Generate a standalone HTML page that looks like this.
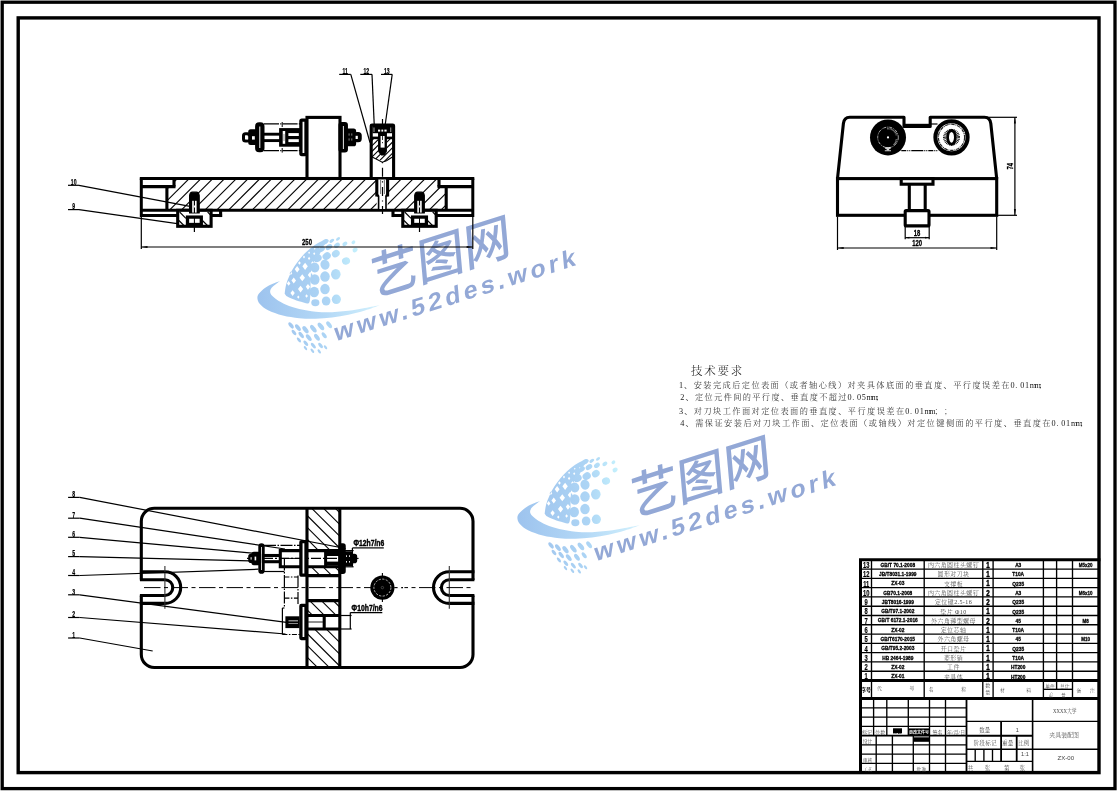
<!DOCTYPE html>
<html lang="zh"><head><meta charset="utf-8"><title>夹具装配图</title>
<style>
html,body{margin:0;padding:0;background:#fff;}
body{width:1118px;height:792px;overflow:hidden;font-family:"Liberation Sans","Noto Sans CJK SC",sans-serif;}
svg{display:block;will-change:transform;}
</style></head><body>
<svg width="1118" height="792" viewBox="0 0 1118 792">
<rect x="0" y="0" width="1118" height="792" fill="#fff"/>
<g id="borders">
<rect x="2.2" y="2.2" width="1112.8" height="786.4" fill="none" stroke="#000" stroke-width="3.3"/>
<rect x="18.2" y="17.9" width="1080.8" height="754.7" fill="none" stroke="#000" stroke-width="3.4"/>
</g>
<g id="wm1" transform="translate(-260 -220)">
<defs><linearGradient id="wg1" gradientUnits="userSpaceOnUse" x1="517" y1="0" x2="640" y2="0"><stop offset="0" stop-color="#9dc3ee"/><stop offset="0.55" stop-color="#b3d8f6"/><stop offset="1" stop-color="#d2f1fd"/></linearGradient>
<linearGradient id="wd1" gradientUnits="userSpaceOnUse" x1="545" y1="0" x2="617" y2="0"><stop offset="0" stop-color="#a3c8ef"/><stop offset="0.6" stop-color="#add5f5"/><stop offset="1" stop-color="#c4f0fd"/></linearGradient></defs>
<path d="M540.37,500.81 C538.32,501.69 531.42,504.15 528.06,506.06 C524.69,507.98 521.96,510.39 520.18,512.3 C518.4,514.22 517.44,515.58 517.39,517.55 C517.33,519.52 518.07,521.99 519.85,524.12 C521.63,526.25 524.23,528.44 528.06,530.36 C531.89,532.27 537.63,534.3 542.83,535.61 C548.03,536.92 553.77,537.72 559.24,538.24 C564.72,538.76 570.19,538.87 575.66,538.73 C581.13,538.59 586.6,538.1 592.07,537.42 C597.55,536.73 603.02,535.77 608.49,534.63 C613.96,533.48 619.71,532.08 624.9,530.52 C630.1,528.96 637.22,526.14 639.68,525.27 L639.68,525.27 C637.22,525.73 630.1,527.13 624.9,528.06 C619.71,528.99 613.96,530.17 608.49,530.85 C603.02,531.53 597.55,532.03 592.07,532.16 C586.6,532.3 581.13,532.19 575.66,531.67 C570.19,531.15 564.17,530.19 559.24,529.04 C554.32,527.9 549.94,526.42 546.11,524.78 C542.28,523.14 538.86,521.06 536.26,519.2 C533.66,517.34 531.28,515.5 530.52,513.61 C529.75,511.73 530.03,510 531.67,507.87 C533.31,505.74 538.92,501.99 540.37,500.81 Z" fill="url(#wg1)"/>
<g fill="url(#wd1)">
<path d="M544.66,513.64 C544.91,512.12 545.32,507.58 546.14,504.55 C546.95,501.52 548.18,498.45 549.55,495.45 C550.91,492.46 552.54,489.43 554.32,486.59 C556.1,483.75 558.11,480.98 560.23,478.41 C562.35,475.83 564.62,473.37 567.05,471.14 C569.47,468.9 572.16,466.78 574.77,465 C577.39,463.22 580.74,461.44 582.73,460.45 C584.72,459.47 585.76,458.94 586.7,459.09 C587.65,459.24 589.07,460.04 588.41,461.36 C587.75,462.69 584.24,464.77 582.73,467.05 C581.21,469.32 581.02,472.16 579.32,475 C577.61,477.84 573.92,480.68 572.5,484.09 C571.08,487.5 571.14,491.29 570.8,495.45 C570.45,499.62 570.74,504.55 570.45,509.09 C570.17,513.64 570.64,520.61 569.09,522.73 C567.54,524.85 563.98,522.48 561.14,521.82 C558.3,521.16 554.51,519.73 552.05,518.75 C549.58,517.77 547.31,516.38 546.36,515.91 Z M565.11,482.81 L567.81,486.36 L565.11,489.91 L562.41,486.36 Z M557.16,486.01 L559.59,489.2 L557.16,492.4 L554.73,489.2 Z M570.23,491.69 L572.66,494.89 L570.23,498.08 L567.8,494.89 Z M562.27,494.18 L564.97,497.73 L562.27,501.28 L559.57,497.73 Z M553.75,497.55 L556.04,500.57 L553.75,503.59 L551.46,500.57 Z M548.64,501.1 L550.39,503.41 L548.64,505.72 L546.88,503.41 Z M567.95,503.98 L570.11,506.82 L567.95,509.66 L565.8,506.82 Z M560.57,505.72 L563.13,509.09 L560.57,512.46 L558,509.09 Z M552.61,510.23 L554.77,513.07 L552.61,515.91 L550.45,513.07 Z M572.5,481.18 L573.85,482.95 L572.5,484.73 L571.15,482.95 Z M569.09,476.81 L570.31,478.41 L569.09,480.01 L567.88,478.41 Z M550.91,491.41 L552.26,493.18 L550.91,494.96 L549.56,493.18 Z M559.43,481.18 L560.78,482.95 L559.43,484.73 L558.08,482.95 Z M563.98,475.62 L565.06,477.05 L563.98,478.47 L562.9,477.05 Z M574.2,472.22 L575.28,473.64 L574.2,475.06 L573.12,473.64 Z M569.09,471.48 L570.04,472.73 L569.09,473.97 L568.15,472.73 Z M579.89,466.94 L580.83,468.18 L579.89,469.42 L578.94,468.18 Z M574.77,467.68 L575.58,468.75 L574.77,469.82 L573.96,468.75 Z M566.59,514.13 L567.94,515.91 L566.59,517.68 L565.24,515.91 Z M558.3,515.45 L559.51,517.05 L558.3,518.64 L557.08,517.05 Z" fill-rule="evenodd"/>
<ellipse cx="613.41" cy="462.27" rx="2.05" ry="1.7" transform="rotate(-35 613.41 462.27)"/>
<ellipse cx="615.11" cy="469.89" rx="2.73" ry="2.16" transform="rotate(-35 615.11 469.89)"/>
<ellipse cx="606.02" cy="480.91" rx="4.09" ry="3.64" transform="rotate(-15 606.02 480.91)"/>
<ellipse cx="595.8" cy="494.32" rx="4.77" ry="5.23" transform="rotate(0 595.8 494.32)"/>
<ellipse cx="596.36" cy="519.32" rx="4.55" ry="4.77" transform="rotate(0 596.36 519.32)"/>
<ellipse cx="604.89" cy="463.86" rx="2.73" ry="1.93" transform="rotate(-35 604.89 463.86)"/>
<ellipse cx="596.93" cy="465.34" rx="3.18" ry="2.27" transform="rotate(-35 596.93 465.34)"/>
<ellipse cx="595.8" cy="473.64" rx="4.09" ry="3.41" transform="rotate(-35 595.8 473.64)"/>
<ellipse cx="598.07" cy="458.86" rx="2.27" ry="1.36" transform="rotate(-35 598.07 458.86)"/>
<ellipse cx="585" cy="484.66" rx="4.55" ry="5" transform="rotate(-15 585 484.66)"/>
<ellipse cx="585" cy="496.59" rx="4.77" ry="5.23" transform="rotate(0 585 496.59)"/>
<ellipse cx="585" cy="509.09" rx="4.77" ry="5.23" transform="rotate(0 585 509.09)"/>
<ellipse cx="586.14" cy="521.02" rx="4.32" ry="4.55" transform="rotate(0 586.14 521.02)"/>
<ellipse cx="586.7" cy="476.14" rx="4.32" ry="3.64" transform="rotate(-35 586.7 476.14)"/>
<ellipse cx="588.98" cy="467.05" rx="3.64" ry="2.5" transform="rotate(-35 588.98 467.05)"/>
<ellipse cx="591.82" cy="460.8" rx="2.73" ry="1.59" transform="rotate(-35 591.82 460.8)"/>
<ellipse cx="574.77" cy="487.5" rx="4.55" ry="5" transform="rotate(-15 574.77 487.5)"/>
<ellipse cx="574.77" cy="499.43" rx="4.77" ry="5.23" transform="rotate(0 574.77 499.43)"/>
<ellipse cx="574.2" cy="511.93" rx="4.77" ry="5.23" transform="rotate(0 574.2 511.93)"/>
<ellipse cx="575.34" cy="522.73" rx="4.09" ry="3.41" transform="rotate(0 575.34 522.73)"/>
<ellipse cx="577.61" cy="478.41" rx="4.32" ry="3.41" transform="rotate(-35 577.61 478.41)"/>
<ellipse cx="581.59" cy="469.32" rx="3.64" ry="2.27" transform="rotate(-35 581.59 469.32)"/>
<ellipse cx="586.14" cy="461.93" rx="2.73" ry="1.48" transform="rotate(-35 586.14 461.93)"/>
<ellipse cx="551.04" cy="545.46" rx="3.68" ry="1.77" transform="rotate(52 551.04 545.46)"/>
<ellipse cx="557.93" cy="547.59" rx="3.94" ry="1.97" transform="rotate(52 557.93 547.59)"/>
<ellipse cx="565.48" cy="549.73" rx="4.2" ry="2.17" transform="rotate(52 565.48 549.73)"/>
<ellipse cx="573.36" cy="548.74" rx="4.46" ry="2.17" transform="rotate(52 573.36 548.74)"/>
<ellipse cx="580.91" cy="546.44" rx="4.46" ry="2.17" transform="rotate(52 580.91 546.44)"/>
<ellipse cx="589.12" cy="544.8" rx="3.94" ry="1.97" transform="rotate(52 589.12 544.8)"/>
<ellipse cx="553.99" cy="552.52" rx="3.15" ry="1.58" transform="rotate(52 553.99 552.52)"/>
<ellipse cx="561.21" cy="554.98" rx="3.68" ry="1.77" transform="rotate(52 561.21 554.98)"/>
<ellipse cx="568.77" cy="557.61" rx="3.94" ry="1.97" transform="rotate(52 568.77 557.61)"/>
<ellipse cx="576.97" cy="557.28" rx="3.94" ry="1.97" transform="rotate(52 576.97 557.28)"/>
<ellipse cx="584.2" cy="555.31" rx="3.41" ry="1.77" transform="rotate(52 584.2 555.31)"/>
<ellipse cx="558.92" cy="559.9" rx="2.89" ry="1.38" transform="rotate(52 558.92 559.9)"/>
<ellipse cx="565.81" cy="563.19" rx="3.15" ry="1.58" transform="rotate(52 565.81 563.19)"/>
<ellipse cx="573.36" cy="565.65" rx="3.41" ry="1.58" transform="rotate(52 573.36 565.65)"/>
<ellipse cx="580.58" cy="565.49" rx="3.15" ry="1.58" transform="rotate(52 580.58 565.49)"/>
<ellipse cx="565.48" cy="568.11" rx="2.36" ry="1.18" transform="rotate(52 565.48 568.11)"/>
<ellipse cx="572.38" cy="570.74" rx="2.63" ry="1.18" transform="rotate(52 572.38 570.74)"/>
<ellipse cx="579.27" cy="571.4" rx="2.36" ry="1.18" transform="rotate(52 579.27 571.4)"/>
<ellipse cx="585.51" cy="567.29" rx="2.36" ry="1.18" transform="rotate(52 585.51 567.29)"/>
</g>
<text transform="matrix(1.03 -0.326 0.1 1.12 632.6 517)" font-family='"Liberation Sans","Noto Sans CJK SC",sans-serif' font-size="45" font-weight="500" fill="#93a8d6" letter-spacing="0.2">艺图网</text>
<text transform="matrix(1 -0.316 0.09 1 595.2 561.4)" font-family='"Liberation Sans",sans-serif' font-size="24.5" font-weight="bold" fill="#93a8d6" textLength="241" lengthAdjust="spacing">www.52des.work</text>
</g>
<g id="wm2" transform="translate(0 0)">
<defs><linearGradient id="wg2" gradientUnits="userSpaceOnUse" x1="517" y1="0" x2="640" y2="0"><stop offset="0" stop-color="#9dc3ee"/><stop offset="0.55" stop-color="#b3d8f6"/><stop offset="1" stop-color="#d2f1fd"/></linearGradient>
<linearGradient id="wd2" gradientUnits="userSpaceOnUse" x1="545" y1="0" x2="617" y2="0"><stop offset="0" stop-color="#a3c8ef"/><stop offset="0.6" stop-color="#add5f5"/><stop offset="1" stop-color="#c4f0fd"/></linearGradient></defs>
<path d="M540.37,500.81 C538.32,501.69 531.42,504.15 528.06,506.06 C524.69,507.98 521.96,510.39 520.18,512.3 C518.4,514.22 517.44,515.58 517.39,517.55 C517.33,519.52 518.07,521.99 519.85,524.12 C521.63,526.25 524.23,528.44 528.06,530.36 C531.89,532.27 537.63,534.3 542.83,535.61 C548.03,536.92 553.77,537.72 559.24,538.24 C564.72,538.76 570.19,538.87 575.66,538.73 C581.13,538.59 586.6,538.1 592.07,537.42 C597.55,536.73 603.02,535.77 608.49,534.63 C613.96,533.48 619.71,532.08 624.9,530.52 C630.1,528.96 637.22,526.14 639.68,525.27 L639.68,525.27 C637.22,525.73 630.1,527.13 624.9,528.06 C619.71,528.99 613.96,530.17 608.49,530.85 C603.02,531.53 597.55,532.03 592.07,532.16 C586.6,532.3 581.13,532.19 575.66,531.67 C570.19,531.15 564.17,530.19 559.24,529.04 C554.32,527.9 549.94,526.42 546.11,524.78 C542.28,523.14 538.86,521.06 536.26,519.2 C533.66,517.34 531.28,515.5 530.52,513.61 C529.75,511.73 530.03,510 531.67,507.87 C533.31,505.74 538.92,501.99 540.37,500.81 Z" fill="url(#wg2)"/>
<g fill="url(#wd2)">
<path d="M544.66,513.64 C544.91,512.12 545.32,507.58 546.14,504.55 C546.95,501.52 548.18,498.45 549.55,495.45 C550.91,492.46 552.54,489.43 554.32,486.59 C556.1,483.75 558.11,480.98 560.23,478.41 C562.35,475.83 564.62,473.37 567.05,471.14 C569.47,468.9 572.16,466.78 574.77,465 C577.39,463.22 580.74,461.44 582.73,460.45 C584.72,459.47 585.76,458.94 586.7,459.09 C587.65,459.24 589.07,460.04 588.41,461.36 C587.75,462.69 584.24,464.77 582.73,467.05 C581.21,469.32 581.02,472.16 579.32,475 C577.61,477.84 573.92,480.68 572.5,484.09 C571.08,487.5 571.14,491.29 570.8,495.45 C570.45,499.62 570.74,504.55 570.45,509.09 C570.17,513.64 570.64,520.61 569.09,522.73 C567.54,524.85 563.98,522.48 561.14,521.82 C558.3,521.16 554.51,519.73 552.05,518.75 C549.58,517.77 547.31,516.38 546.36,515.91 Z M565.11,482.81 L567.81,486.36 L565.11,489.91 L562.41,486.36 Z M557.16,486.01 L559.59,489.2 L557.16,492.4 L554.73,489.2 Z M570.23,491.69 L572.66,494.89 L570.23,498.08 L567.8,494.89 Z M562.27,494.18 L564.97,497.73 L562.27,501.28 L559.57,497.73 Z M553.75,497.55 L556.04,500.57 L553.75,503.59 L551.46,500.57 Z M548.64,501.1 L550.39,503.41 L548.64,505.72 L546.88,503.41 Z M567.95,503.98 L570.11,506.82 L567.95,509.66 L565.8,506.82 Z M560.57,505.72 L563.13,509.09 L560.57,512.46 L558,509.09 Z M552.61,510.23 L554.77,513.07 L552.61,515.91 L550.45,513.07 Z M572.5,481.18 L573.85,482.95 L572.5,484.73 L571.15,482.95 Z M569.09,476.81 L570.31,478.41 L569.09,480.01 L567.88,478.41 Z M550.91,491.41 L552.26,493.18 L550.91,494.96 L549.56,493.18 Z M559.43,481.18 L560.78,482.95 L559.43,484.73 L558.08,482.95 Z M563.98,475.62 L565.06,477.05 L563.98,478.47 L562.9,477.05 Z M574.2,472.22 L575.28,473.64 L574.2,475.06 L573.12,473.64 Z M569.09,471.48 L570.04,472.73 L569.09,473.97 L568.15,472.73 Z M579.89,466.94 L580.83,468.18 L579.89,469.42 L578.94,468.18 Z M574.77,467.68 L575.58,468.75 L574.77,469.82 L573.96,468.75 Z M566.59,514.13 L567.94,515.91 L566.59,517.68 L565.24,515.91 Z M558.3,515.45 L559.51,517.05 L558.3,518.64 L557.08,517.05 Z" fill-rule="evenodd"/>
<ellipse cx="613.41" cy="462.27" rx="2.05" ry="1.7" transform="rotate(-35 613.41 462.27)"/>
<ellipse cx="615.11" cy="469.89" rx="2.73" ry="2.16" transform="rotate(-35 615.11 469.89)"/>
<ellipse cx="606.02" cy="480.91" rx="4.09" ry="3.64" transform="rotate(-15 606.02 480.91)"/>
<ellipse cx="595.8" cy="494.32" rx="4.77" ry="5.23" transform="rotate(0 595.8 494.32)"/>
<ellipse cx="596.36" cy="519.32" rx="4.55" ry="4.77" transform="rotate(0 596.36 519.32)"/>
<ellipse cx="604.89" cy="463.86" rx="2.73" ry="1.93" transform="rotate(-35 604.89 463.86)"/>
<ellipse cx="596.93" cy="465.34" rx="3.18" ry="2.27" transform="rotate(-35 596.93 465.34)"/>
<ellipse cx="595.8" cy="473.64" rx="4.09" ry="3.41" transform="rotate(-35 595.8 473.64)"/>
<ellipse cx="598.07" cy="458.86" rx="2.27" ry="1.36" transform="rotate(-35 598.07 458.86)"/>
<ellipse cx="585" cy="484.66" rx="4.55" ry="5" transform="rotate(-15 585 484.66)"/>
<ellipse cx="585" cy="496.59" rx="4.77" ry="5.23" transform="rotate(0 585 496.59)"/>
<ellipse cx="585" cy="509.09" rx="4.77" ry="5.23" transform="rotate(0 585 509.09)"/>
<ellipse cx="586.14" cy="521.02" rx="4.32" ry="4.55" transform="rotate(0 586.14 521.02)"/>
<ellipse cx="586.7" cy="476.14" rx="4.32" ry="3.64" transform="rotate(-35 586.7 476.14)"/>
<ellipse cx="588.98" cy="467.05" rx="3.64" ry="2.5" transform="rotate(-35 588.98 467.05)"/>
<ellipse cx="591.82" cy="460.8" rx="2.73" ry="1.59" transform="rotate(-35 591.82 460.8)"/>
<ellipse cx="574.77" cy="487.5" rx="4.55" ry="5" transform="rotate(-15 574.77 487.5)"/>
<ellipse cx="574.77" cy="499.43" rx="4.77" ry="5.23" transform="rotate(0 574.77 499.43)"/>
<ellipse cx="574.2" cy="511.93" rx="4.77" ry="5.23" transform="rotate(0 574.2 511.93)"/>
<ellipse cx="575.34" cy="522.73" rx="4.09" ry="3.41" transform="rotate(0 575.34 522.73)"/>
<ellipse cx="577.61" cy="478.41" rx="4.32" ry="3.41" transform="rotate(-35 577.61 478.41)"/>
<ellipse cx="581.59" cy="469.32" rx="3.64" ry="2.27" transform="rotate(-35 581.59 469.32)"/>
<ellipse cx="586.14" cy="461.93" rx="2.73" ry="1.48" transform="rotate(-35 586.14 461.93)"/>
<ellipse cx="551.04" cy="545.46" rx="3.68" ry="1.77" transform="rotate(52 551.04 545.46)"/>
<ellipse cx="557.93" cy="547.59" rx="3.94" ry="1.97" transform="rotate(52 557.93 547.59)"/>
<ellipse cx="565.48" cy="549.73" rx="4.2" ry="2.17" transform="rotate(52 565.48 549.73)"/>
<ellipse cx="573.36" cy="548.74" rx="4.46" ry="2.17" transform="rotate(52 573.36 548.74)"/>
<ellipse cx="580.91" cy="546.44" rx="4.46" ry="2.17" transform="rotate(52 580.91 546.44)"/>
<ellipse cx="589.12" cy="544.8" rx="3.94" ry="1.97" transform="rotate(52 589.12 544.8)"/>
<ellipse cx="553.99" cy="552.52" rx="3.15" ry="1.58" transform="rotate(52 553.99 552.52)"/>
<ellipse cx="561.21" cy="554.98" rx="3.68" ry="1.77" transform="rotate(52 561.21 554.98)"/>
<ellipse cx="568.77" cy="557.61" rx="3.94" ry="1.97" transform="rotate(52 568.77 557.61)"/>
<ellipse cx="576.97" cy="557.28" rx="3.94" ry="1.97" transform="rotate(52 576.97 557.28)"/>
<ellipse cx="584.2" cy="555.31" rx="3.41" ry="1.77" transform="rotate(52 584.2 555.31)"/>
<ellipse cx="558.92" cy="559.9" rx="2.89" ry="1.38" transform="rotate(52 558.92 559.9)"/>
<ellipse cx="565.81" cy="563.19" rx="3.15" ry="1.58" transform="rotate(52 565.81 563.19)"/>
<ellipse cx="573.36" cy="565.65" rx="3.41" ry="1.58" transform="rotate(52 573.36 565.65)"/>
<ellipse cx="580.58" cy="565.49" rx="3.15" ry="1.58" transform="rotate(52 580.58 565.49)"/>
<ellipse cx="565.48" cy="568.11" rx="2.36" ry="1.18" transform="rotate(52 565.48 568.11)"/>
<ellipse cx="572.38" cy="570.74" rx="2.63" ry="1.18" transform="rotate(52 572.38 570.74)"/>
<ellipse cx="579.27" cy="571.4" rx="2.36" ry="1.18" transform="rotate(52 579.27 571.4)"/>
<ellipse cx="585.51" cy="567.29" rx="2.36" ry="1.18" transform="rotate(52 585.51 567.29)"/>
</g>
<text transform="matrix(1.03 -0.326 0.1 1.12 632.6 517)" font-family='"Liberation Sans","Noto Sans CJK SC",sans-serif' font-size="45" font-weight="500" fill="#93a8d6" letter-spacing="0.2">艺图网</text>
<text transform="matrix(1 -0.316 0.09 1 595.2 561.4)" font-family='"Liberation Sans",sans-serif' font-size="24.5" font-weight="bold" fill="#93a8d6" textLength="241" lengthAdjust="spacing">www.52des.work</text>
</g>
<g id="front">
<clipPath id="hp"><path d="M174,178.5 H376.6 V210.3 H166.9 V186.6 H174 Z M387.7,178.5 H439 V186.6 H446.2 V210.3 H387.7 Z" clip-rule="evenodd"/></clipPath>
<g clip-path="url(#hp)" stroke="#000" stroke-width="1.1">
<line x1="168.2" y1="176" x2="131.2" y2="213"/>
<line x1="180" y1="176" x2="143" y2="213"/>
<line x1="191.8" y1="176" x2="154.8" y2="213"/>
<line x1="203.6" y1="176" x2="166.6" y2="213"/>
<line x1="215.4" y1="176" x2="178.4" y2="213"/>
<line x1="227.2" y1="176" x2="190.2" y2="213"/>
<line x1="239" y1="176" x2="202" y2="213"/>
<line x1="250.8" y1="176" x2="213.8" y2="213"/>
<line x1="262.6" y1="176" x2="225.6" y2="213"/>
<line x1="274.4" y1="176" x2="237.4" y2="213"/>
<line x1="286.2" y1="176" x2="249.2" y2="213"/>
<line x1="298" y1="176" x2="261" y2="213"/>
<line x1="309.8" y1="176" x2="272.8" y2="213"/>
<line x1="321.6" y1="176" x2="284.6" y2="213"/>
<line x1="333.4" y1="176" x2="296.4" y2="213"/>
<line x1="345.2" y1="176" x2="308.2" y2="213"/>
<line x1="357" y1="176" x2="320" y2="213"/>
<line x1="368.8" y1="176" x2="331.8" y2="213"/>
<line x1="380.6" y1="176" x2="343.6" y2="213"/>
<line x1="392.4" y1="176" x2="355.4" y2="213"/>
<line x1="404.2" y1="176" x2="367.2" y2="213"/>
<line x1="416" y1="176" x2="379" y2="213"/>
<line x1="427.8" y1="176" x2="390.8" y2="213"/>
<line x1="439.6" y1="176" x2="402.6" y2="213"/>
<line x1="451.4" y1="176" x2="414.4" y2="213"/>
<line x1="463.2" y1="176" x2="426.2" y2="213"/>
<line x1="475" y1="176" x2="438" y2="213"/>
<line x1="486.8" y1="176" x2="449.8" y2="213"/>
</g>
<line x1="139.8" y1="178.5" x2="474.3" y2="178.5" stroke="#000" stroke-width="3"/>
<line x1="141.3" y1="178.5" x2="141.3" y2="217" stroke="#000" stroke-width="3"/>
<line x1="472.8" y1="178.5" x2="472.8" y2="217" stroke="#000" stroke-width="3"/>
<line x1="141.3" y1="210.3" x2="472.8" y2="210.3" stroke="#000" stroke-width="3"/>
<line x1="141.3" y1="215.5" x2="222.1" y2="215.5" stroke="#000" stroke-width="3.1"/>
<line x1="220.6" y1="210.3" x2="220.6" y2="217.05" stroke="#000" stroke-width="3.1"/>
<line x1="392" y1="215.5" x2="472.8" y2="215.5" stroke="#000" stroke-width="3.1"/>
<line x1="393" y1="210.3" x2="393" y2="217.05" stroke="#000" stroke-width="3.1"/>
<line x1="141.3" y1="186.6" x2="175.5" y2="186.6" stroke="#000" stroke-width="3.1"/>
<line x1="174" y1="178.5" x2="174" y2="186.6" stroke="#000" stroke-width="3.1"/>
<line x1="166.9" y1="186.6" x2="166.9" y2="210.3" stroke="#000" stroke-width="3.1"/>
<line x1="437.5" y1="186.6" x2="472.8" y2="186.6" stroke="#000" stroke-width="3.1"/>
<line x1="439" y1="178.5" x2="439" y2="186.6" stroke="#000" stroke-width="3.1"/>
<line x1="446.2" y1="186.6" x2="446.2" y2="210.3" stroke="#000" stroke-width="3.1"/>
<rect x="177.7" y="210.3" width="33.4" height="16" fill="#fff" stroke="#000" stroke-width="3.1"/>
<line x1="179.6" y1="212" x2="185.9" y2="218.3" stroke="#000" stroke-width="1.1"/>
<line x1="178.9" y1="220.5" x2="184.4" y2="226" stroke="#000" stroke-width="1.1"/>
<line x1="202.4" y1="220.5" x2="208.9" y2="227" stroke="#000" stroke-width="1.1"/>
<line x1="207.6" y1="212" x2="210.4" y2="214.8" stroke="#000" stroke-width="1.1"/>
<rect x="187.5" y="217.1" width="13.8" height="7.4" fill="#fff" stroke="#000" stroke-width="3.3"/>
<path d="M189.6,213 V195.6 Q190,192.2 192.4,192.2 H196.4 Q198.8,192.2 199.2,195.6 V213 Z" fill="#000" stroke="#000" stroke-width="1.2" stroke-linejoin="round"/>
<rect x="192.2" y="200.8" width="1.6" height="11.8" fill="#fff"/>
<rect x="195" y="200.8" width="1.6" height="11.8" fill="#fff"/>
<rect x="193.8" y="205.5" width="1.2" height="2" fill="#fff"/>
<line x1="194.4" y1="226" x2="194.4" y2="232" stroke="#000" stroke-width="1.2"/>
<line x1="194.4" y1="218" x2="194.4" y2="224" stroke="#000" stroke-width="1"/>
<rect x="402.8" y="210.3" width="33.4" height="16" fill="#fff" stroke="#000" stroke-width="3.1"/>
<line x1="404.7" y1="212" x2="411" y2="218.3" stroke="#000" stroke-width="1.1"/>
<line x1="404" y1="220.5" x2="409.5" y2="226" stroke="#000" stroke-width="1.1"/>
<line x1="427.5" y1="220.5" x2="434" y2="227" stroke="#000" stroke-width="1.1"/>
<line x1="432.7" y1="212" x2="435.5" y2="214.8" stroke="#000" stroke-width="1.1"/>
<rect x="412.6" y="217.1" width="13.8" height="7.4" fill="#fff" stroke="#000" stroke-width="3.3"/>
<path d="M414.7,213 V195.6 Q415.1,192.2 417.5,192.2 H421.5 Q423.9,192.2 424.3,195.6 V213 Z" fill="#000" stroke="#000" stroke-width="1.2" stroke-linejoin="round"/>
<rect x="417.3" y="200.8" width="1.6" height="11.8" fill="#fff"/>
<rect x="420.1" y="200.8" width="1.6" height="11.8" fill="#fff"/>
<rect x="418.9" y="205.5" width="1.2" height="2" fill="#fff"/>
<line x1="419.5" y1="226" x2="419.5" y2="232" stroke="#000" stroke-width="1.2"/>
<line x1="419.5" y1="218" x2="419.5" y2="224" stroke="#000" stroke-width="1"/>
<rect x="307" y="117.4" width="33" height="61.1" fill="#fff" stroke="#000" stroke-width="3.1"/>
<rect x="300.9" y="120.2" width="5.1" height="34.4" fill="#fff" stroke="#000" stroke-width="3.3" rx="1"/>
<rect x="340" y="123.6" width="6.4" height="27.4" fill="#000" stroke="#000" stroke-width="3.1" rx="1.5"/>
<rect x="342.9" y="126" width="0.9" height="23" fill="#fff"/>
<rect x="346.4" y="130" width="8.2" height="14.8" fill="#000" stroke="#000" stroke-width="3.1" rx="1"/>
<rect x="348.7" y="133.4" width="0.7" height="2.2" fill="#bbb"/>
<rect x="351.5" y="133.4" width="0.7" height="2.2" fill="#bbb"/>
<rect x="348.7" y="138.4" width="0.7" height="2.2" fill="#bbb"/>
<rect x="351.5" y="138.4" width="0.7" height="2.2" fill="#bbb"/>
<rect x="355" y="133.6" width="5.2" height="7.2" fill="#000" stroke="#000" stroke-width="3.1" rx="2"/>
<rect x="355.6" y="135.8" width="2.2" height="3.2" fill="#fff"/>
<rect x="279.1" y="128.1" width="20.9" height="18.6" fill="#000"/>
<rect x="282.7" y="131" width="2.5" height="12.8" fill="#fff"/>
<rect x="283.6" y="134" width="0.8" height="7" fill="#777"/>
<rect x="288.4" y="133.1" width="10.4" height="2.9" fill="#fff"/>
<rect x="288.4" y="139.2" width="10.4" height="2.9" fill="#fff"/>
<line x1="263.5" y1="134.2" x2="280" y2="134.2" stroke="#000" stroke-width="2.9"/>
<line x1="263.5" y1="140.6" x2="280" y2="140.6" stroke="#000" stroke-width="2.9"/>
<line x1="264" y1="123.9" x2="300" y2="123.9" stroke="#000" stroke-width="1.2" stroke-dasharray="15 1.2 1.2 1.2"/>
<line x1="264" y1="150.7" x2="300" y2="150.7" stroke="#000" stroke-width="1.2" stroke-dasharray="15 1.2 1.2 1.2"/>
<line x1="282.2" y1="122" x2="282.2" y2="127" stroke="#000" stroke-width="1"/>
<line x1="282.2" y1="148" x2="282.2" y2="152.6" stroke="#000" stroke-width="1"/>
<rect x="256.8" y="124" width="6" height="26.6" fill="#000" stroke="#000" stroke-width="3.4" rx="2.4"/>
<rect x="259.3" y="126.5" width="1" height="21.5" fill="#fff"/>
<rect x="249.5" y="130.6" width="6.8" height="13" fill="#000" stroke="#000" stroke-width="2.6" rx="1.2"/>
<rect x="252" y="136.2" width="2.8" height="3.4" fill="#fff"/>
<rect x="243.5" y="133.8" width="5.8" height="7.2" fill="#fff" stroke="#000" stroke-width="3" rx="2"/>
<rect x="246.6" y="136.2" width="1.6" height="3.2" fill="#fff"/>
<clipPath id="hc"><path d="M371,139 H378.6 V151 L381,155 H384.4 L386.4,151 V139 H393.6 V157 L385.5,162 L375.7,158.8 L371,156.4 Z" clip-rule="evenodd"/></clipPath>
<g clip-path="url(#hc)" stroke="#000" stroke-width="1.1">
<line x1="370.6" y1="136" x2="341.6" y2="165"/>
<line x1="376.2" y1="136" x2="347.2" y2="165"/>
<line x1="381.8" y1="136" x2="352.8" y2="165"/>
<line x1="387.4" y1="136" x2="358.4" y2="165"/>
<line x1="393" y1="136" x2="364" y2="165"/>
<line x1="398.6" y1="136" x2="369.6" y2="165"/>
<line x1="404.2" y1="136" x2="375.2" y2="165"/>
<line x1="409.8" y1="136" x2="380.8" y2="165"/>
<line x1="415.4" y1="136" x2="386.4" y2="165"/>
<line x1="421" y1="136" x2="392" y2="165"/>
</g>
<path d="M371,156.4 L375.7,158.8 L382.2,162.2 L386.5,160.8 L393.6,156.2" fill="none" stroke="#000" stroke-width="1.1" stroke-linejoin="miter"/>
<rect x="371.2" y="125" width="22.4" height="53.5" fill="none" stroke="#000" stroke-width="3.1" rx="0.8"/>
<rect x="372.5" y="125" width="19.8" height="8.2" fill="#000"/>
<rect x="378" y="129.6" width="2.2" height="2" fill="#fff"/>
<rect x="381.4" y="129.6" width="1.8" height="2" fill="#fff"/>
<rect x="384.4" y="129.6" width="2.2" height="2" fill="#fff"/>
<rect x="373.6" y="127.5" width="0.8" height="4.5" fill="#ccc"/>
<rect x="390.4" y="127.5" width="0.8" height="4.5" fill="#ccc"/>
<line x1="371.2" y1="137.9" x2="393.6" y2="137.9" stroke="#000" stroke-width="2.6"/>
<path d="M378.6,133 V151.5 L381,155 H384.4 L386.4,151.5 V133 Z" fill="#000" stroke="#000" stroke-width="1" stroke-linejoin="round"/>
<rect x="380.6" y="136" width="4" height="11.6" fill="#fff"/>
<rect x="382.1" y="136" width="0.8" height="4" fill="#000"/>
<rect x="382.1" y="142" width="0.8" height="1.2" fill="#000"/>
<rect x="378" y="179.5" width="8.5" height="29.5" fill="#fff"/>
<line x1="376.8" y1="178.5" x2="376.8" y2="196.5" stroke="#000" stroke-width="3.1"/>
<line x1="387.6" y1="178.5" x2="387.6" y2="196.5" stroke="#000" stroke-width="3.1"/>
<line x1="376.8" y1="195.6" x2="379" y2="195.6" stroke="#000" stroke-width="2"/>
<line x1="385.6" y1="195.6" x2="387.6" y2="195.6" stroke="#000" stroke-width="2"/>
<line x1="378.6" y1="195.6" x2="378.6" y2="210.3" stroke="#000" stroke-width="1.6"/>
<line x1="386" y1="195.6" x2="386" y2="210.3" stroke="#000" stroke-width="1.6"/>
<line x1="380.6" y1="180" x2="380.6" y2="194" stroke="#555" stroke-width="0.8"/>
<line x1="384.4" y1="180" x2="384.4" y2="194" stroke="#555" stroke-width="0.8"/>
<line x1="382.5" y1="119" x2="382.5" y2="124" stroke="#000" stroke-width="1.2"/>
<line x1="382.5" y1="162" x2="382.5" y2="214" stroke="#000" stroke-width="1.2" stroke-dasharray="1.2 4.5 9 4.5"/>
<line x1="141.3" y1="217" x2="141.3" y2="249" stroke="#000" stroke-width="1.2"/>
<line x1="472.8" y1="217" x2="472.8" y2="249" stroke="#000" stroke-width="1.2"/>
<line x1="141.3" y1="247" x2="472.8" y2="247" stroke="#000" stroke-width="1.2"/>
<polygon points="141.5,247 147.5,246 147.5,248" fill="#000"/>
<polygon points="472.6,247 466.6,248 466.6,246" fill="#000"/>
<text transform="translate(307 245.4) scale(0.66 1)" font-family='"Liberation Sans","Noto Sans CJK SC",sans-serif' font-size="9" font-weight="bold" text-anchor="middle" fill="#000" stroke="#000" stroke-width="0.3" stroke-linejoin="round">250</text>
<line x1="339.2" y1="74.4" x2="350.8" y2="74.4" stroke="#000" stroke-width="1.2"/>
<line x1="350.8" y1="74.4" x2="370" y2="142.5" stroke="#000" stroke-width="1.2"/>
<text transform="translate(345.2 74.2) scale(0.62 1)" font-family='"Liberation Sans","Noto Sans CJK SC",sans-serif' font-size="8.3" font-weight="bold" text-anchor="middle" fill="#000" stroke="#000" stroke-width="0.22" stroke-linejoin="round">11</text>
<line x1="360.3" y1="74.4" x2="372" y2="74.4" stroke="#000" stroke-width="1.2"/>
<line x1="372" y1="74.4" x2="374.2" y2="124" stroke="#000" stroke-width="1.2"/>
<text transform="translate(366.35 74.2) scale(0.62 1)" font-family='"Liberation Sans","Noto Sans CJK SC",sans-serif' font-size="8.3" font-weight="bold" text-anchor="middle" fill="#000" stroke="#000" stroke-width="0.22" stroke-linejoin="round">12</text>
<line x1="381" y1="74.4" x2="392.2" y2="74.4" stroke="#000" stroke-width="1.2"/>
<line x1="392.2" y1="74.4" x2="385.3" y2="124" stroke="#000" stroke-width="1.2"/>
<text transform="translate(386.8 74.2) scale(0.62 1)" font-family='"Liberation Sans","Noto Sans CJK SC",sans-serif' font-size="8.3" font-weight="bold" text-anchor="middle" fill="#000" stroke="#000" stroke-width="0.22" stroke-linejoin="round">13</text>
<line x1="68" y1="185.3" x2="79" y2="185.3" stroke="#000" stroke-width="1.2"/>
<line x1="79" y1="185.3" x2="190" y2="206.4" stroke="#000" stroke-width="1.2"/>
<text transform="translate(73.7 185.1) scale(0.62 1)" font-family='"Liberation Sans","Noto Sans CJK SC",sans-serif' font-size="8.3" font-weight="bold" text-anchor="middle" fill="#000" stroke="#000" stroke-width="0.22" stroke-linejoin="round">10</text>
<line x1="68" y1="209.6" x2="79" y2="209.6" stroke="#000" stroke-width="1.2"/>
<line x1="79" y1="209.6" x2="177.2" y2="223.6" stroke="#000" stroke-width="1.2"/>
<text transform="translate(73.7 209.4) scale(0.62 1)" font-family='"Liberation Sans","Noto Sans CJK SC",sans-serif' font-size="8.3" font-weight="bold" text-anchor="middle" fill="#000" stroke="#000" stroke-width="0.22" stroke-linejoin="round">9</text>
</g>
<g id="side">
<path d="M837.5,178.6 L843.4,123.5 Q844.2,117.3 849.7,117.3 H904 V126.4 H930.2 V117.3 H984.5 Q990,117.3 990.8,123.5 L996.7,178.6" fill="none" stroke="#000" stroke-width="3.1" stroke-linejoin="round"/>
<line x1="904" y1="124.7" x2="930.4" y2="124.7" stroke="#000" stroke-width="1.8"/>
<rect x="837.5" y="178.6" width="159.2" height="36.7" fill="none" stroke="#000" stroke-width="3.1"/>
<rect x="901.2" y="178.6" width="31.8" height="5.6" fill="#fff" stroke="#000" stroke-width="3.1"/>
<line x1="909.3" y1="184.2" x2="909.3" y2="210" stroke="#000" stroke-width="3.1"/>
<line x1="925.2" y1="184.2" x2="925.2" y2="210" stroke="#000" stroke-width="3.1"/>
<rect x="905.2" y="210.6" width="23.8" height="15.3" fill="#fff" stroke="#000" stroke-width="3.1" rx="1"/>
<circle cx="888" cy="137.4" r="18" fill="#000" stroke="none" stroke-width="0"/>
<circle cx="888" cy="137.4" r="10.3" fill="none" stroke="#ddd" stroke-width="0.8" stroke-dasharray="3 1.2 1 1"/>
<path d="M887.2,128.6 A9,9 0 0 1 896.6,135.2" fill="none" stroke="#999" stroke-width="1.8" stroke-linejoin="miter" stroke-dasharray="0.7 0.6"/>
<path d="M896.4,139.5 A9,9 0 0 1 893.6,145" fill="none" stroke="#bbb" stroke-width="1.6" stroke-linejoin="miter" stroke-dasharray="0.7 0.6"/>
<circle cx="888" cy="137.4" r="1.1" fill="#fff" stroke="none" stroke-width="0"/>
<rect x="885.2" y="147.3" width="5.4" height="1.5" fill="#fff"/>
<rect x="886.6" y="148.8" width="2.6" height="1.5" fill="#ddd"/>
<rect x="884.8" y="150.4" width="6.2" height="0.8" fill="#fff"/>
<circle cx="951.5" cy="137.3" r="16.1" fill="#fff" stroke="#000" stroke-width="4.1"/>
<circle cx="951.5" cy="137.3" r="13.1" fill="none" stroke="#222" stroke-width="1.2" stroke-dasharray="3.5 0.8 1 0.8"/>
<circle cx="951.5" cy="137.3" r="6.9" fill="none" stroke="#000" stroke-width="3.1" stroke-dasharray="0.75 0.75"/>
<ellipse cx="951.5" cy="137.3" rx="5.3" ry="8.4" fill="#000"/>
<ellipse cx="951.5" cy="137.3" rx="2.5" ry="5.4" fill="#fff"/>
<line x1="901.3" y1="150.6" x2="938.4" y2="150.6" stroke="#000" stroke-width="1.2" stroke-dasharray="5 1 1 1 1 1 12 1 1 1 1 1"/>
<line x1="930" y1="124" x2="937.5" y2="124" stroke="#000" stroke-width="1.2"/>
<line x1="905.2" y1="227" x2="905.2" y2="239.2" stroke="#000" stroke-width="1.2"/>
<line x1="929.2" y1="227" x2="929.2" y2="239.2" stroke="#000" stroke-width="1.2"/>
<line x1="905.2" y1="237.7" x2="929.2" y2="237.7" stroke="#000" stroke-width="1.2"/>
<polygon points="905.4,237.7 909.4,236.8 909.4,238.6" fill="#000"/>
<polygon points="929,237.7 925,238.6 925,236.8" fill="#000"/>
<text transform="translate(917 236) scale(0.66 1)" font-family='"Liberation Sans","Noto Sans CJK SC",sans-serif' font-size="9" font-weight="bold" text-anchor="middle" fill="#000" stroke="#000" stroke-width="0.3" stroke-linejoin="round">18</text>
<line x1="837.5" y1="216.5" x2="837.5" y2="250" stroke="#000" stroke-width="1.2"/>
<line x1="996.7" y1="216.5" x2="996.7" y2="250" stroke="#000" stroke-width="1.2"/>
<line x1="837.5" y1="248" x2="996.7" y2="248" stroke="#000" stroke-width="1.2"/>
<polygon points="837.7,248 843.7,247 843.7,249" fill="#000"/>
<polygon points="996.5,248 990.5,249 990.5,247" fill="#000"/>
<text transform="translate(917.1 246.1) scale(0.66 1)" font-family='"Liberation Sans","Noto Sans CJK SC",sans-serif' font-size="9" font-weight="bold" text-anchor="middle" fill="#000" stroke="#000" stroke-width="0.3" stroke-linejoin="round">120</text>
<line x1="986" y1="117.3" x2="1017" y2="117.3" stroke="#000" stroke-width="1.2"/>
<line x1="998" y1="215.3" x2="1017" y2="215.3" stroke="#000" stroke-width="1.2"/>
<line x1="1014.9" y1="117.3" x2="1014.9" y2="215.3" stroke="#000" stroke-width="1.2"/>
<polygon points="1014.9,117.4 1015.9,123.4 1013.9,123.4" fill="#000"/>
<polygon points="1014.9,214.9 1013.9,208.9 1015.9,208.9" fill="#000"/>
<text transform="translate(1013 166.2) rotate(-90) scale(0.66 1)" font-family='"Liberation Sans","Noto Sans CJK SC",sans-serif' font-size="9" font-weight="bold" text-anchor="middle" fill="#000" stroke="#000" stroke-width="0.3" stroke-linejoin="round">74</text>
</g>
<g id="top">
<clipPath id="hb"><path d="M307,508.3 H340 V550.6 H307 Z M307,566.8 H340 V575.6 H307 Z M307,600.6 H340 V615.5 H307 Z M307,629 H340 V667.5 H307 Z" clip-rule="evenodd"/></clipPath>
<g clip-path="url(#hb)" stroke="#000" stroke-width="1.1">
<line x1="144.23" y1="506" x2="308.73" y2="670.5"/>
<line x1="156.03" y1="506" x2="320.53" y2="670.5"/>
<line x1="167.83" y1="506" x2="332.33" y2="670.5"/>
<line x1="179.63" y1="506" x2="344.13" y2="670.5"/>
<line x1="191.43" y1="506" x2="355.93" y2="670.5"/>
<line x1="203.23" y1="506" x2="367.73" y2="670.5"/>
<line x1="215.03" y1="506" x2="379.53" y2="670.5"/>
<line x1="226.83" y1="506" x2="391.33" y2="670.5"/>
<line x1="238.63" y1="506" x2="403.13" y2="670.5"/>
<line x1="250.43" y1="506" x2="414.93" y2="670.5"/>
<line x1="262.23" y1="506" x2="426.73" y2="670.5"/>
<line x1="274.03" y1="506" x2="438.53" y2="670.5"/>
<line x1="285.83" y1="506" x2="450.33" y2="670.5"/>
<line x1="297.63" y1="506" x2="462.13" y2="670.5"/>
<line x1="309.43" y1="506" x2="473.93" y2="670.5"/>
<line x1="321.23" y1="506" x2="485.73" y2="670.5"/>
<line x1="333.03" y1="506" x2="497.53" y2="670.5"/>
</g>
<path d="M141.3,579.6 V521.3 A13,13 0 0 1 154.3,508.3 H460 A13,13 0 0 1 473,521.3 V580" fill="none" stroke="#000" stroke-width="3.1" stroke-linejoin="round"/>
<path d="M141.3,595.4 V654.5 A13,13 0 0 0 154.3,667.5 H460 A13,13 0 0 0 473,654.5 V595.4" fill="none" stroke="#000" stroke-width="3.1" stroke-linejoin="round"/>
<path d="M139.9,571.8 H164.9 A15.8,15.8 0 0 1 164.9,603.4 H139.9" fill="none" stroke="#000" stroke-width="3.1" stroke-linejoin="miter"/>
<path d="M139.9,579.7 H164.9 A7.9,7.9 0 0 1 164.9,595.5 H139.9" fill="none" stroke="#000" stroke-width="3.1" stroke-linejoin="miter"/>
<path d="M474.4,571.8 H449.3 A15.8,15.8 0 0 0 449.3,603.4 H474.4" fill="none" stroke="#000" stroke-width="3.1" stroke-linejoin="miter"/>
<path d="M474.4,579.7 H449.3 A7.9,7.9 0 0 0 449.3,595.5 H474.4" fill="none" stroke="#000" stroke-width="3.1" stroke-linejoin="miter"/>
<line x1="164.9" y1="566" x2="164.9" y2="608.7" stroke="#333" stroke-width="1.1"/>
<line x1="449.3" y1="566" x2="449.3" y2="608.7" stroke="#333" stroke-width="1.1"/>
<line x1="144" y1="587.6" x2="471" y2="587.6" stroke="#000" stroke-width="1" stroke-dasharray="16.5 3.5 4 3.5"/>
<line x1="307" y1="508.3" x2="307" y2="667.5" stroke="#000" stroke-width="3.1"/>
<line x1="339.8" y1="508.3" x2="339.8" y2="667.5" stroke="#000" stroke-width="3.1"/>
<line x1="307.3" y1="550.6" x2="340" y2="550.6" stroke="#000" stroke-width="3.1"/>
<line x1="307.3" y1="566.8" x2="340" y2="566.8" stroke="#000" stroke-width="3.1"/>
<line x1="307.3" y1="575.6" x2="340" y2="575.6" stroke="#000" stroke-width="3.1"/>
<line x1="307.3" y1="600.6" x2="340" y2="600.6" stroke="#000" stroke-width="3.1"/>
<line x1="307.3" y1="615.5" x2="340" y2="615.5" stroke="#000" stroke-width="3.1"/>
<line x1="307.3" y1="629" x2="340" y2="629" stroke="#000" stroke-width="3.1"/>
<line x1="247" y1="558.3" x2="357" y2="558.3" stroke="#000" stroke-width="1.2" stroke-dasharray="10 2 2 2"/>
<rect x="300.9" y="541.6" width="5.1" height="33.6" fill="#fff" stroke="#000" stroke-width="3.3" rx="1"/>
<rect x="340" y="544.8" width="4.2" height="27.6" fill="#000" stroke="#000" stroke-width="3.1" rx="1.2"/>
<rect x="344.5" y="552.3" width="7.7" height="12.9" fill="#000" stroke="#000" stroke-width="2" rx="1"/>
<rect x="346" y="555.3" width="0.9" height="1.6" fill="#fff"/>
<rect x="349" y="555.3" width="0.9" height="1.6" fill="#fff"/>
<rect x="346" y="561" width="0.9" height="1.6" fill="#fff"/>
<rect x="349" y="561" width="0.9" height="1.6" fill="#fff"/>
<rect x="352.6" y="554.8" width="3.6" height="7.4" fill="#000" stroke="#000" stroke-width="2" rx="1.8"/>
<line x1="356" y1="558.4" x2="358.6" y2="558.4" stroke="#000" stroke-width="1.1"/>
<path d="M300,550.6 H280.3 V566.8 H300" fill="none" stroke="#000" stroke-width="3.1" stroke-linejoin="miter"/>
<line x1="263.5" y1="555.5" x2="280" y2="555.5" stroke="#000" stroke-width="3.1"/>
<line x1="263.5" y1="561.7" x2="280" y2="561.7" stroke="#000" stroke-width="3.1"/>
<line x1="280" y1="558.4" x2="300" y2="558.4" stroke="#000" stroke-width="1"/>
<rect x="326" y="552" width="14" height="4" fill="#000"/>
<rect x="326" y="561.6" width="14" height="4" fill="#000"/>
<line x1="325.6" y1="551" x2="325.6" y2="566.5" stroke="#000" stroke-width="3"/>
<rect x="259.9" y="544.8" width="3.2" height="27.4" fill="#000" stroke="#000" stroke-width="3.2" rx="1.8"/>
<rect x="261.1" y="547" width="0.8" height="23" fill="#fff"/>
<rect x="252.9" y="553.2" width="6.7" height="10.4" fill="#000" stroke="#000" stroke-width="3.1" rx="1"/>
<rect x="254.6" y="556.6" width="1.6" height="3.8" fill="#fff"/>
<rect x="249.2" y="554.8" width="3.7" height="7.2" fill="#000" stroke="#000" stroke-width="2" rx="1.8"/>
<rect x="250.6" y="557.2" width="1" height="2.4" fill="#fff"/>
<line x1="264" y1="545.3" x2="300" y2="545.3" stroke="#000" stroke-width="1.2" stroke-dasharray="12 1.5 1.5 1.5"/>
<line x1="264" y1="571.5" x2="284.4" y2="571.5" stroke="#000" stroke-width="1.2"/>
<line x1="284.4" y1="558.4" x2="284.4" y2="608" stroke="#000" stroke-width="1.2" stroke-dasharray="12 1.5 1.5 1.5"/>
<line x1="298" y1="575.5" x2="298" y2="605" stroke="#000" stroke-width="1.2" stroke-dasharray="12 1.5 1.5 1.5"/>
<line x1="284.4" y1="577" x2="298" y2="577" stroke="#000" stroke-width="1.2" stroke-dasharray="5 1.5 1.5 1.5"/>
<line x1="284.4" y1="598.2" x2="298" y2="598.2" stroke="#000" stroke-width="1.2" stroke-dasharray="5 1.5 1.5 1.5"/>
<rect x="300.9" y="605.4" width="5.1" height="33.2" fill="#fff" stroke="#000" stroke-width="3.3" rx="0.5"/>
<rect x="285.4" y="616.3" width="14.2" height="11.8" fill="#000"/>
<rect x="288.5" y="620.2" width="9.5" height="1.2" fill="#aaa"/>
<rect x="288.5" y="623" width="9.5" height="1" fill="#888"/>
<line x1="324.2" y1="615.5" x2="324.2" y2="629" stroke="#000" stroke-width="3.1"/>
<line x1="308" y1="622" x2="323" y2="622" stroke="#222" stroke-width="1"/>
<line x1="282.4" y1="608" x2="282.4" y2="634.5" stroke="#000" stroke-width="1.2"/>
<line x1="282.4" y1="634.5" x2="299.8" y2="634.5" stroke="#000" stroke-width="1.2" stroke-dasharray="5 1.5 1.5 1.5"/>
<line x1="282.4" y1="608" x2="284.4" y2="608" stroke="#000" stroke-width="1.2"/>
<line x1="340" y1="550.6" x2="353.6" y2="550.6" stroke="#000" stroke-width="1.2"/>
<line x1="340" y1="566.8" x2="353.6" y2="566.8" stroke="#000" stroke-width="1.2"/>
<line x1="352.4" y1="547.9" x2="352.4" y2="566.8" stroke="#000" stroke-width="1.2"/>
<line x1="352.4" y1="547.9" x2="383.8" y2="547.9" stroke="#000" stroke-width="1.2"/>
<text transform="translate(353.4 545.8)" font-family='"Liberation Sans","Noto Sans CJK SC",sans-serif' font-size="8.6" font-weight="bold" text-anchor="start" fill="#000" textLength="30.9" lengthAdjust="spacingAndGlyphs" stroke="#000" stroke-width="0.4" stroke-linejoin="round">Φ12h7/n6</text>
<line x1="340" y1="615.5" x2="351.6" y2="615.5" stroke="#000" stroke-width="1.2"/>
<line x1="340" y1="629" x2="351.6" y2="629" stroke="#000" stroke-width="1.2"/>
<line x1="350.3" y1="612.6" x2="350.3" y2="629" stroke="#000" stroke-width="1.2"/>
<line x1="350.3" y1="612.6" x2="382.3" y2="612.6" stroke="#000" stroke-width="1.2"/>
<text transform="translate(351.6 610.5)" font-family='"Liberation Sans","Noto Sans CJK SC",sans-serif' font-size="8.6" font-weight="bold" text-anchor="start" fill="#000" textLength="30.9" lengthAdjust="spacingAndGlyphs" stroke="#000" stroke-width="0.4" stroke-linejoin="round">Φ10h7/n6</text>
<rect x="394.4" y="586.4" width="10" height="2.4" fill="#fff"/>
<circle cx="382.4" cy="587.6" r="12.1" fill="#000" stroke="none" stroke-width="0"/>
<circle cx="382.4" cy="587.6" r="8.5" fill="none" stroke="#ddd" stroke-width="0.8" stroke-dasharray="2.2 1.4"/>
<circle cx="382.4" cy="587.6" r="1.2" fill="none" stroke="#777" stroke-width="0.5"/>
<line x1="382.4" y1="573" x2="382.4" y2="576" stroke="#000" stroke-width="1.1"/>
<line x1="382.4" y1="599" x2="382.4" y2="602" stroke="#000" stroke-width="1.1"/>
<line x1="394.4" y1="587.6" x2="397.6" y2="587.6" stroke="#000" stroke-width="1.1"/>
<line x1="401.2" y1="587.6" x2="403" y2="587.6" stroke="#000" stroke-width="1.1"/>
<line x1="68.1" y1="497.4" x2="79.7" y2="497.4" stroke="#000" stroke-width="1.2"/>
<line x1="79.7" y1="497.4" x2="345.6" y2="548.5" stroke="#000" stroke-width="1.2"/>
<text transform="translate(73.6 497.2) scale(0.62 1)" font-family='"Liberation Sans","Noto Sans CJK SC",sans-serif' font-size="8.3" font-weight="bold" text-anchor="middle" fill="#000" stroke="#000" stroke-width="0.22" stroke-linejoin="round">8</text>
<line x1="68.1" y1="518.2" x2="79.7" y2="518.2" stroke="#000" stroke-width="1.2"/>
<line x1="79.7" y1="518.2" x2="285" y2="549" stroke="#000" stroke-width="1.2"/>
<text transform="translate(73.6 518) scale(0.62 1)" font-family='"Liberation Sans","Noto Sans CJK SC",sans-serif' font-size="8.3" font-weight="bold" text-anchor="middle" fill="#000" stroke="#000" stroke-width="0.22" stroke-linejoin="round">7</text>
<line x1="68.1" y1="537.3" x2="79.7" y2="537.3" stroke="#000" stroke-width="1.2"/>
<line x1="79.7" y1="537.3" x2="255" y2="553.3" stroke="#000" stroke-width="1.2"/>
<text transform="translate(73.6 537.1) scale(0.62 1)" font-family='"Liberation Sans","Noto Sans CJK SC",sans-serif' font-size="8.3" font-weight="bold" text-anchor="middle" fill="#000" stroke="#000" stroke-width="0.22" stroke-linejoin="round">6</text>
<line x1="68.1" y1="556.6" x2="79.7" y2="556.6" stroke="#000" stroke-width="1.2"/>
<line x1="79.7" y1="556.6" x2="250" y2="560.9" stroke="#000" stroke-width="1.2"/>
<text transform="translate(73.6 556.4) scale(0.62 1)" font-family='"Liberation Sans","Noto Sans CJK SC",sans-serif' font-size="8.3" font-weight="bold" text-anchor="middle" fill="#000" stroke="#000" stroke-width="0.22" stroke-linejoin="round">5</text>
<line x1="68.1" y1="575.5" x2="79.7" y2="575.5" stroke="#000" stroke-width="1.2"/>
<line x1="79.7" y1="575.5" x2="258.5" y2="569.2" stroke="#000" stroke-width="1.2"/>
<text transform="translate(73.6 575.3) scale(0.62 1)" font-family='"Liberation Sans","Noto Sans CJK SC",sans-serif' font-size="8.3" font-weight="bold" text-anchor="middle" fill="#000" stroke="#000" stroke-width="0.22" stroke-linejoin="round">4</text>
<line x1="68.1" y1="594.8" x2="79.7" y2="594.8" stroke="#000" stroke-width="1.2"/>
<line x1="79.7" y1="594.8" x2="286.5" y2="622.4" stroke="#000" stroke-width="1.2"/>
<text transform="translate(73.6 594.6) scale(0.62 1)" font-family='"Liberation Sans","Noto Sans CJK SC",sans-serif' font-size="8.3" font-weight="bold" text-anchor="middle" fill="#000" stroke="#000" stroke-width="0.22" stroke-linejoin="round">3</text>
<line x1="68.1" y1="617.5" x2="79.7" y2="617.5" stroke="#000" stroke-width="1.2"/>
<line x1="79.7" y1="617.5" x2="285.5" y2="634" stroke="#000" stroke-width="1.2"/>
<text transform="translate(73.6 617.3) scale(0.62 1)" font-family='"Liberation Sans","Noto Sans CJK SC",sans-serif' font-size="8.3" font-weight="bold" text-anchor="middle" fill="#000" stroke="#000" stroke-width="0.22" stroke-linejoin="round">2</text>
<line x1="68.1" y1="638" x2="79.7" y2="638" stroke="#000" stroke-width="1.2"/>
<line x1="79.7" y1="638" x2="152.7" y2="651" stroke="#000" stroke-width="1.2"/>
<text transform="translate(73.6 637.8) scale(0.62 1)" font-family='"Liberation Sans","Noto Sans CJK SC",sans-serif' font-size="8.3" font-weight="bold" text-anchor="middle" fill="#000" stroke="#000" stroke-width="0.22" stroke-linejoin="round">1</text>
</g>
<g id="tech">
<text y="375.3" x="690.92 704.17 717.42 730.67" font-family='"Liberation Serif","Noto Serif CJK SC",serif' font-size="11.4" font-weight="300" fill="#1a1a1a">技术要求</text>
<text y="387.6" x="678.95 684.11 693.72 703.33 712.94 722.55 732.16 741.77 751.38 760.99 770.61 780.22 789.83 799.44 809.05 818.66 828.27 837.88 847.49 857.1 866.71 876.32 885.93 895.54 905.15 914.76 924.37 933.98 943.59 953.21 962.82 972.43 982.04 991.65 1001.26 1010.52 1015.32 1020.13 1024.93 1029.74 1034.54 1039.35" font-family='"Liberation Serif","Noto Serif CJK SC",serif' font-size="8.2" font-weight="300" fill="#1a1a1a">1、安装完成后定位表面（或者轴心线）对夹具体底面的垂直度、平行度误差在0.01mm;</text>
<text y="399.8" x="680.34 685.45 695 704.56 714.11 723.66 733.21 742.77 752.32 761.87 771.42 780.98 790.53 800.08 809.63 819.19 828.74 838.29 847.5 852.28 857.06 861.83 866.61 871.39 876.16" font-family='"Liberation Serif","Noto Serif CJK SC",serif' font-size="8.2" font-weight="300" fill="#1a1a1a">2、定位元件间的平行度、垂直度不超过0.05mm;</text>
<text y="414.1" x="678.96 684.13 693.76 703.38 713.01 722.64 732.27 741.9 751.52 761.15 770.78 780.41 790.04 799.66 809.29 818.92 828.55 838.18 847.81 857.43 867.06 876.69 886.32 895.95 905.22 910.03 914.84 919.66 924.47 929.29 934.46 944.09" font-family='"Liberation Serif","Noto Serif CJK SC",serif' font-size="8.2" font-weight="300" fill="#1a1a1a">3、对刀块工作面对定位表面的垂直度、平行度误差在0.01mm；；</text>
<text y="426" x="680.36 685.54 695.19 704.83 714.47 724.11 733.76 743.4 753.04 762.69 772.33 781.97 791.61 801.26 810.9 820.54 830.19 839.83 849.47 859.11 868.76 878.4 888.04 897.69 907.33 916.97 926.61 936.26 945.9 955.54 965.19 974.83 984.47 994.11 1003.76 1013.4 1023.04 1032.69 1042.33 1051.61 1056.43 1061.25 1066.07 1070.9 1075.72 1080.54" font-family='"Liberation Serif","Noto Serif CJK SC",serif' font-size="8.2" font-weight="300" fill="#1a1a1a">4、需保证安装后对刀块工作面、定位表面（或轴线）对定位键侧面的平行度、垂直度在0.01mm;</text>
</g>
<g id="titleblock">
<line x1="860.5" y1="569.08" x2="1098.9" y2="569.08" stroke="#000" stroke-width="1.35"/>
<line x1="860.5" y1="578.37" x2="1098.9" y2="578.37" stroke="#000" stroke-width="1.35"/>
<line x1="860.5" y1="587.65" x2="1098.9" y2="587.65" stroke="#000" stroke-width="1.35"/>
<line x1="860.5" y1="596.94" x2="1098.9" y2="596.94" stroke="#000" stroke-width="1.35"/>
<line x1="860.5" y1="606.22" x2="1098.9" y2="606.22" stroke="#000" stroke-width="1.35"/>
<line x1="860.5" y1="615.51" x2="1098.9" y2="615.51" stroke="#000" stroke-width="1.35"/>
<line x1="860.5" y1="624.79" x2="1098.9" y2="624.79" stroke="#000" stroke-width="1.35"/>
<line x1="860.5" y1="634.08" x2="1098.9" y2="634.08" stroke="#000" stroke-width="1.35"/>
<line x1="860.5" y1="643.37" x2="1098.9" y2="643.37" stroke="#000" stroke-width="1.35"/>
<line x1="860.5" y1="652.65" x2="1098.9" y2="652.65" stroke="#000" stroke-width="1.35"/>
<line x1="860.5" y1="661.93" x2="1098.9" y2="661.93" stroke="#000" stroke-width="1.35"/>
<line x1="860.5" y1="671.22" x2="1098.9" y2="671.22" stroke="#000" stroke-width="1.35"/>
<line x1="871.5" y1="559.8" x2="871.5" y2="698.6" stroke="#000" stroke-width="1.35"/>
<line x1="924.2" y1="559.8" x2="924.2" y2="698.6" stroke="#000" stroke-width="1.35"/>
<line x1="982.8" y1="559.8" x2="982.8" y2="698.6" stroke="#000" stroke-width="1.35"/>
<line x1="993.1" y1="559.8" x2="993.1" y2="698.6" stroke="#000" stroke-width="1.35"/>
<line x1="1043.4" y1="559.8" x2="1043.4" y2="698.6" stroke="#000" stroke-width="1.35"/>
<line x1="1056.6" y1="559.8" x2="1056.6" y2="689.3" stroke="#000" stroke-width="1.35"/>
<line x1="1072.5" y1="559.8" x2="1072.5" y2="698.6" stroke="#000" stroke-width="1.35"/>
<line x1="1043.4" y1="689.3" x2="1072.5" y2="689.3" stroke="#000" stroke-width="1.35"/>
<line x1="859" y1="559.8" x2="1100.4" y2="559.8" stroke="#000" stroke-width="3"/>
<line x1="860.5" y1="559.8" x2="860.5" y2="772.6" stroke="#000" stroke-width="3"/>
<line x1="860.5" y1="680.5" x2="1098.9" y2="680.5" stroke="#000" stroke-width="3"/>
<line x1="860.5" y1="698.6" x2="1098.9" y2="698.6" stroke="#000" stroke-width="3"/>
<text transform="translate(866.2 567.98) scale(0.66 1)" font-family='"Liberation Sans","Noto Sans CJK SC",sans-serif' font-size="8.8" font-weight="bold" text-anchor="middle" fill="#000" stroke="#000" stroke-width="0.2" stroke-linejoin="round">13</text>
<text transform="translate(897.8 566.68) scale(0.86 1)" font-family='"Liberation Sans","Noto Sans CJK SC",sans-serif' font-size="5.6" font-weight="bold" text-anchor="middle" fill="#000" stroke="#000" stroke-width="0.3" stroke-linejoin="round">GB/T 70.1-2008</text>
<text transform="translate(953.5 567.08)" font-family='"Liberation Serif","Noto Serif CJK SC",serif' font-size="6" font-weight="300" text-anchor="middle" fill="#444" letter-spacing="0.4">内六角圆柱头螺钉</text>
<text transform="translate(988 567.78) scale(0.7 1)" font-family='"Liberation Sans","Noto Sans CJK SC",sans-serif' font-size="8.8" font-weight="bold" text-anchor="middle" fill="#000" stroke="#000" stroke-width="0.5" stroke-linejoin="round">1</text>
<text transform="translate(1018.2 567.08) scale(0.86 1)" font-family='"Liberation Sans","Noto Sans CJK SC",sans-serif' font-size="5.6" font-weight="bold" text-anchor="middle" fill="#000" stroke="#000" stroke-width="0.3" stroke-linejoin="round">A3</text>
<text transform="translate(1085.6 567.18) scale(0.86 1)" font-family='"Liberation Sans","Noto Sans CJK SC",sans-serif' font-size="5.2" font-weight="bold" text-anchor="middle" fill="#000" stroke="#000" stroke-width="0.3" stroke-linejoin="round">M5x20</text>
<text transform="translate(866.2 577.27) scale(0.66 1)" font-family='"Liberation Sans","Noto Sans CJK SC",sans-serif' font-size="8.8" font-weight="bold" text-anchor="middle" fill="#000" stroke="#000" stroke-width="0.2" stroke-linejoin="round">12</text>
<text transform="translate(897.8 575.97) scale(0.86 1)" font-family='"Liberation Sans","Noto Sans CJK SC",sans-serif' font-size="5.6" font-weight="bold" text-anchor="middle" fill="#000" stroke="#000" stroke-width="0.3" stroke-linejoin="round">JB/T8031.1-1999</text>
<text transform="translate(953.5 576.37)" font-family='"Liberation Serif","Noto Serif CJK SC",serif' font-size="6" font-weight="300" text-anchor="middle" fill="#444" letter-spacing="0.4">圆形对刀块</text>
<text transform="translate(988 577.07) scale(0.7 1)" font-family='"Liberation Sans","Noto Sans CJK SC",sans-serif' font-size="8.8" font-weight="bold" text-anchor="middle" fill="#000" stroke="#000" stroke-width="0.5" stroke-linejoin="round">1</text>
<text transform="translate(1018.2 576.37) scale(0.86 1)" font-family='"Liberation Sans","Noto Sans CJK SC",sans-serif' font-size="5.6" font-weight="bold" text-anchor="middle" fill="#000" stroke="#000" stroke-width="0.3" stroke-linejoin="round">T10A</text>
<text transform="translate(866.2 586.55) scale(0.66 1)" font-family='"Liberation Sans","Noto Sans CJK SC",sans-serif' font-size="8.8" font-weight="bold" text-anchor="middle" fill="#000" stroke="#000" stroke-width="0.2" stroke-linejoin="round">11</text>
<text transform="translate(897.8 585.25) scale(0.86 1)" font-family='"Liberation Sans","Noto Sans CJK SC",sans-serif' font-size="5.6" font-weight="bold" text-anchor="middle" fill="#000" stroke="#000" stroke-width="0.3" stroke-linejoin="round">ZX-03</text>
<text transform="translate(953.5 585.65)" font-family='"Liberation Serif","Noto Serif CJK SC",serif' font-size="6" font-weight="300" text-anchor="middle" fill="#444" letter-spacing="0.4">支撑板</text>
<text transform="translate(988 586.36) scale(0.7 1)" font-family='"Liberation Sans","Noto Sans CJK SC",sans-serif' font-size="8.8" font-weight="bold" text-anchor="middle" fill="#000" stroke="#000" stroke-width="0.5" stroke-linejoin="round">1</text>
<text transform="translate(1018.2 585.65) scale(0.86 1)" font-family='"Liberation Sans","Noto Sans CJK SC",sans-serif' font-size="5.6" font-weight="bold" text-anchor="middle" fill="#000" stroke="#000" stroke-width="0.3" stroke-linejoin="round">Q235</text>
<text transform="translate(866.2 595.84) scale(0.66 1)" font-family='"Liberation Sans","Noto Sans CJK SC",sans-serif' font-size="8.8" font-weight="bold" text-anchor="middle" fill="#000" stroke="#000" stroke-width="0.2" stroke-linejoin="round">10</text>
<text transform="translate(897.8 594.54) scale(0.86 1)" font-family='"Liberation Sans","Noto Sans CJK SC",sans-serif' font-size="5.6" font-weight="bold" text-anchor="middle" fill="#000" stroke="#000" stroke-width="0.3" stroke-linejoin="round">GB70.1-2008</text>
<text transform="translate(953.5 594.94)" font-family='"Liberation Serif","Noto Serif CJK SC",serif' font-size="6" font-weight="300" text-anchor="middle" fill="#444" letter-spacing="0.4">内六角圆柱头螺钉</text>
<text transform="translate(988 595.64) scale(0.7 1)" font-family='"Liberation Sans","Noto Sans CJK SC",sans-serif' font-size="8.8" font-weight="bold" text-anchor="middle" fill="#000" stroke="#000" stroke-width="0.5" stroke-linejoin="round">2</text>
<text transform="translate(1018.2 594.94) scale(0.86 1)" font-family='"Liberation Sans","Noto Sans CJK SC",sans-serif' font-size="5.6" font-weight="bold" text-anchor="middle" fill="#000" stroke="#000" stroke-width="0.3" stroke-linejoin="round">A3</text>
<text transform="translate(1085.6 595.04) scale(0.86 1)" font-family='"Liberation Sans","Noto Sans CJK SC",sans-serif' font-size="5.2" font-weight="bold" text-anchor="middle" fill="#000" stroke="#000" stroke-width="0.3" stroke-linejoin="round">M6x10</text>
<text transform="translate(866.2 605.12) scale(0.66 1)" font-family='"Liberation Sans","Noto Sans CJK SC",sans-serif' font-size="8.8" font-weight="bold" text-anchor="middle" fill="#000" stroke="#000" stroke-width="0.2" stroke-linejoin="round">9</text>
<text transform="translate(897.8 603.82) scale(0.86 1)" font-family='"Liberation Sans","Noto Sans CJK SC",sans-serif' font-size="5.6" font-weight="bold" text-anchor="middle" fill="#000" stroke="#000" stroke-width="0.3" stroke-linejoin="round">JBT8016-1999</text>
<text transform="translate(953.5 604.22)" font-family='"Liberation Serif","Noto Serif CJK SC",serif' font-size="6" font-weight="300" text-anchor="middle" fill="#444" letter-spacing="0.4">定位键2.5-16</text>
<text transform="translate(988 604.92) scale(0.7 1)" font-family='"Liberation Sans","Noto Sans CJK SC",sans-serif' font-size="8.8" font-weight="bold" text-anchor="middle" fill="#000" stroke="#000" stroke-width="0.5" stroke-linejoin="round">2</text>
<text transform="translate(1018.2 604.22) scale(0.86 1)" font-family='"Liberation Sans","Noto Sans CJK SC",sans-serif' font-size="5.6" font-weight="bold" text-anchor="middle" fill="#000" stroke="#000" stroke-width="0.3" stroke-linejoin="round">Q235</text>
<text transform="translate(866.2 614.41) scale(0.66 1)" font-family='"Liberation Sans","Noto Sans CJK SC",sans-serif' font-size="8.8" font-weight="bold" text-anchor="middle" fill="#000" stroke="#000" stroke-width="0.2" stroke-linejoin="round">8</text>
<text transform="translate(897.8 613.11) scale(0.86 1)" font-family='"Liberation Sans","Noto Sans CJK SC",sans-serif' font-size="5.6" font-weight="bold" text-anchor="middle" fill="#000" stroke="#000" stroke-width="0.3" stroke-linejoin="round">GB/T97.1-2002</text>
<text transform="translate(953.5 613.51)" font-family='"Liberation Serif","Noto Serif CJK SC",serif' font-size="6" font-weight="300" text-anchor="middle" fill="#444" letter-spacing="0.4">垫片 Φ10</text>
<text transform="translate(988 614.21) scale(0.7 1)" font-family='"Liberation Sans","Noto Sans CJK SC",sans-serif' font-size="8.8" font-weight="bold" text-anchor="middle" fill="#000" stroke="#000" stroke-width="0.5" stroke-linejoin="round">1</text>
<text transform="translate(1018.2 613.51) scale(0.86 1)" font-family='"Liberation Sans","Noto Sans CJK SC",sans-serif' font-size="5.6" font-weight="bold" text-anchor="middle" fill="#000" stroke="#000" stroke-width="0.3" stroke-linejoin="round">Q235</text>
<text transform="translate(866.2 623.69) scale(0.66 1)" font-family='"Liberation Sans","Noto Sans CJK SC",sans-serif' font-size="8.8" font-weight="bold" text-anchor="middle" fill="#000" stroke="#000" stroke-width="0.2" stroke-linejoin="round">7</text>
<text transform="translate(897.8 622.39) scale(0.86 1)" font-family='"Liberation Sans","Noto Sans CJK SC",sans-serif' font-size="5.6" font-weight="bold" text-anchor="middle" fill="#000" stroke="#000" stroke-width="0.3" stroke-linejoin="round">GB/T 6172.1-2016</text>
<text transform="translate(953.5 622.79)" font-family='"Liberation Serif","Noto Serif CJK SC",serif' font-size="6" font-weight="300" text-anchor="middle" fill="#444" letter-spacing="0.4">外六角薄型螺母</text>
<text transform="translate(988 623.5) scale(0.7 1)" font-family='"Liberation Sans","Noto Sans CJK SC",sans-serif' font-size="8.8" font-weight="bold" text-anchor="middle" fill="#000" stroke="#000" stroke-width="0.5" stroke-linejoin="round">2</text>
<text transform="translate(1018.2 622.79) scale(0.86 1)" font-family='"Liberation Sans","Noto Sans CJK SC",sans-serif' font-size="5.6" font-weight="bold" text-anchor="middle" fill="#000" stroke="#000" stroke-width="0.3" stroke-linejoin="round">45</text>
<text transform="translate(1085.6 622.89) scale(0.86 1)" font-family='"Liberation Sans","Noto Sans CJK SC",sans-serif' font-size="5.2" font-weight="bold" text-anchor="middle" fill="#000" stroke="#000" stroke-width="0.3" stroke-linejoin="round">M8</text>
<text transform="translate(866.2 632.98) scale(0.66 1)" font-family='"Liberation Sans","Noto Sans CJK SC",sans-serif' font-size="8.8" font-weight="bold" text-anchor="middle" fill="#000" stroke="#000" stroke-width="0.2" stroke-linejoin="round">6</text>
<text transform="translate(897.8 631.68) scale(0.86 1)" font-family='"Liberation Sans","Noto Sans CJK SC",sans-serif' font-size="5.6" font-weight="bold" text-anchor="middle" fill="#000" stroke="#000" stroke-width="0.3" stroke-linejoin="round">ZX-02</text>
<text transform="translate(953.5 632.08)" font-family='"Liberation Serif","Noto Serif CJK SC",serif' font-size="6" font-weight="300" text-anchor="middle" fill="#444" letter-spacing="0.4">定位芯轴</text>
<text transform="translate(988 632.78) scale(0.7 1)" font-family='"Liberation Sans","Noto Sans CJK SC",sans-serif' font-size="8.8" font-weight="bold" text-anchor="middle" fill="#000" stroke="#000" stroke-width="0.5" stroke-linejoin="round">1</text>
<text transform="translate(1018.2 632.08) scale(0.86 1)" font-family='"Liberation Sans","Noto Sans CJK SC",sans-serif' font-size="5.6" font-weight="bold" text-anchor="middle" fill="#000" stroke="#000" stroke-width="0.3" stroke-linejoin="round">T10A</text>
<text transform="translate(866.2 642.26) scale(0.66 1)" font-family='"Liberation Sans","Noto Sans CJK SC",sans-serif' font-size="8.8" font-weight="bold" text-anchor="middle" fill="#000" stroke="#000" stroke-width="0.2" stroke-linejoin="round">5</text>
<text transform="translate(897.8 640.97) scale(0.86 1)" font-family='"Liberation Sans","Noto Sans CJK SC",sans-serif' font-size="5.6" font-weight="bold" text-anchor="middle" fill="#000" stroke="#000" stroke-width="0.3" stroke-linejoin="round">GB/T6170-2015</text>
<text transform="translate(953.5 641.37)" font-family='"Liberation Serif","Noto Serif CJK SC",serif' font-size="6" font-weight="300" text-anchor="middle" fill="#444" letter-spacing="0.4">外六角螺母</text>
<text transform="translate(988 642.07) scale(0.7 1)" font-family='"Liberation Sans","Noto Sans CJK SC",sans-serif' font-size="8.8" font-weight="bold" text-anchor="middle" fill="#000" stroke="#000" stroke-width="0.5" stroke-linejoin="round">1</text>
<text transform="translate(1018.2 641.37) scale(0.86 1)" font-family='"Liberation Sans","Noto Sans CJK SC",sans-serif' font-size="5.6" font-weight="bold" text-anchor="middle" fill="#000" stroke="#000" stroke-width="0.3" stroke-linejoin="round">45</text>
<text transform="translate(1085.6 641.47) scale(0.86 1)" font-family='"Liberation Sans","Noto Sans CJK SC",sans-serif' font-size="5.2" font-weight="bold" text-anchor="middle" fill="#000" stroke="#000" stroke-width="0.3" stroke-linejoin="round">M10</text>
<text transform="translate(866.2 651.55) scale(0.66 1)" font-family='"Liberation Sans","Noto Sans CJK SC",sans-serif' font-size="8.8" font-weight="bold" text-anchor="middle" fill="#000" stroke="#000" stroke-width="0.2" stroke-linejoin="round">4</text>
<text transform="translate(897.8 650.25) scale(0.86 1)" font-family='"Liberation Sans","Noto Sans CJK SC",sans-serif' font-size="5.6" font-weight="bold" text-anchor="middle" fill="#000" stroke="#000" stroke-width="0.3" stroke-linejoin="round">GB/T95.2-2003</text>
<text transform="translate(953.5 650.65)" font-family='"Liberation Serif","Noto Serif CJK SC",serif' font-size="6" font-weight="300" text-anchor="middle" fill="#444" letter-spacing="0.4">开口垫片</text>
<text transform="translate(988 651.35) scale(0.7 1)" font-family='"Liberation Sans","Noto Sans CJK SC",sans-serif' font-size="8.8" font-weight="bold" text-anchor="middle" fill="#000" stroke="#000" stroke-width="0.5" stroke-linejoin="round">1</text>
<text transform="translate(1018.2 650.65) scale(0.86 1)" font-family='"Liberation Sans","Noto Sans CJK SC",sans-serif' font-size="5.6" font-weight="bold" text-anchor="middle" fill="#000" stroke="#000" stroke-width="0.3" stroke-linejoin="round">Q235</text>
<text transform="translate(866.2 660.83) scale(0.66 1)" font-family='"Liberation Sans","Noto Sans CJK SC",sans-serif' font-size="8.8" font-weight="bold" text-anchor="middle" fill="#000" stroke="#000" stroke-width="0.2" stroke-linejoin="round">3</text>
<text transform="translate(897.8 659.53) scale(0.86 1)" font-family='"Liberation Sans","Noto Sans CJK SC",sans-serif' font-size="5.6" font-weight="bold" text-anchor="middle" fill="#000" stroke="#000" stroke-width="0.3" stroke-linejoin="round">HB 2464-1989</text>
<text transform="translate(953.5 659.93)" font-family='"Liberation Serif","Noto Serif CJK SC",serif' font-size="6" font-weight="300" text-anchor="middle" fill="#444" letter-spacing="0.4">菱形销</text>
<text transform="translate(988 660.63) scale(0.7 1)" font-family='"Liberation Sans","Noto Sans CJK SC",sans-serif' font-size="8.8" font-weight="bold" text-anchor="middle" fill="#000" stroke="#000" stroke-width="0.5" stroke-linejoin="round">1</text>
<text transform="translate(1018.2 659.93) scale(0.86 1)" font-family='"Liberation Sans","Noto Sans CJK SC",sans-serif' font-size="5.6" font-weight="bold" text-anchor="middle" fill="#000" stroke="#000" stroke-width="0.3" stroke-linejoin="round">T10A</text>
<text transform="translate(866.2 670.12) scale(0.66 1)" font-family='"Liberation Sans","Noto Sans CJK SC",sans-serif' font-size="8.8" font-weight="bold" text-anchor="middle" fill="#000" stroke="#000" stroke-width="0.2" stroke-linejoin="round">2</text>
<text transform="translate(897.8 668.82) scale(0.86 1)" font-family='"Liberation Sans","Noto Sans CJK SC",sans-serif' font-size="5.6" font-weight="bold" text-anchor="middle" fill="#000" stroke="#000" stroke-width="0.3" stroke-linejoin="round">ZX-02</text>
<text transform="translate(953.5 669.22)" font-family='"Liberation Serif","Noto Serif CJK SC",serif' font-size="6" font-weight="300" text-anchor="middle" fill="#444" letter-spacing="0.4">工件</text>
<text transform="translate(988 669.92) scale(0.7 1)" font-family='"Liberation Sans","Noto Sans CJK SC",sans-serif' font-size="8.8" font-weight="bold" text-anchor="middle" fill="#000" stroke="#000" stroke-width="0.5" stroke-linejoin="round">1</text>
<text transform="translate(1018.2 669.22) scale(0.86 1)" font-family='"Liberation Sans","Noto Sans CJK SC",sans-serif' font-size="5.6" font-weight="bold" text-anchor="middle" fill="#000" stroke="#000" stroke-width="0.3" stroke-linejoin="round">HT200</text>
<text transform="translate(866.2 679.4) scale(0.66 1)" font-family='"Liberation Sans","Noto Sans CJK SC",sans-serif' font-size="8.8" font-weight="bold" text-anchor="middle" fill="#000" stroke="#000" stroke-width="0.2" stroke-linejoin="round">1</text>
<text transform="translate(897.8 678.11) scale(0.86 1)" font-family='"Liberation Sans","Noto Sans CJK SC",sans-serif' font-size="5.6" font-weight="bold" text-anchor="middle" fill="#000" stroke="#000" stroke-width="0.3" stroke-linejoin="round">ZX-01</text>
<text transform="translate(953.5 678.5)" font-family='"Liberation Serif","Noto Serif CJK SC",serif' font-size="6" font-weight="300" text-anchor="middle" fill="#444" letter-spacing="0.4">夹具体</text>
<text transform="translate(988 679.21) scale(0.7 1)" font-family='"Liberation Sans","Noto Sans CJK SC",sans-serif' font-size="8.8" font-weight="bold" text-anchor="middle" fill="#000" stroke="#000" stroke-width="0.5" stroke-linejoin="round">1</text>
<text transform="translate(1018.2 678.5) scale(0.86 1)" font-family='"Liberation Sans","Noto Sans CJK SC",sans-serif' font-size="5.6" font-weight="bold" text-anchor="middle" fill="#000" stroke="#000" stroke-width="0.3" stroke-linejoin="round">HT200</text>
<text transform="translate(866 691.6) scale(0.95 1)" font-family='"Liberation Sans","Noto Sans CJK SC",sans-serif' font-size="5.2" font-weight="bold" text-anchor="middle" fill="#000">序号</text>
<text transform="translate(879.5 690)" font-family='"Liberation Serif","Noto Serif CJK SC",serif' font-size="4.8" font-weight="300" text-anchor="middle" fill="#444">代</text>
<text transform="translate(912 690)" font-family='"Liberation Serif","Noto Serif CJK SC",serif' font-size="4.8" font-weight="300" text-anchor="middle" fill="#444">号</text>
<text transform="translate(931.2 690.8)" font-family='"Liberation Serif","Noto Serif CJK SC",serif' font-size="4.8" font-weight="300" text-anchor="middle" fill="#444">名</text>
<text transform="translate(963.7 690.8)" font-family='"Liberation Serif","Noto Serif CJK SC",serif' font-size="4.8" font-weight="300" text-anchor="middle" fill="#444">称</text>
<text transform="translate(987.8 687.2)" font-family='"Liberation Serif","Noto Serif CJK SC",serif' font-size="5" font-weight="300" text-anchor="middle" fill="#444">数</text>
<text transform="translate(987.8 694.4)" font-family='"Liberation Serif","Noto Serif CJK SC",serif' font-size="5" font-weight="300" text-anchor="middle" fill="#444">量</text>
<text transform="translate(1002.4 692.4)" font-family='"Liberation Serif","Noto Serif CJK SC",serif' font-size="4.8" font-weight="300" text-anchor="middle" fill="#444">材</text>
<text transform="translate(1028.7 692.4)" font-family='"Liberation Serif","Noto Serif CJK SC",serif' font-size="4.8" font-weight="300" text-anchor="middle" fill="#444">料</text>
<text transform="translate(1050 687.8)" font-family='"Liberation Serif","Noto Serif CJK SC",serif' font-size="4.8" font-weight="300" text-anchor="middle" fill="#444">单件</text>
<text transform="translate(1064.7 687.8)" font-family='"Liberation Serif","Noto Serif CJK SC",serif' font-size="4.8" font-weight="300" text-anchor="middle" fill="#444">总计</text>
<text transform="translate(1050.6 696.8)" font-family='"Liberation Serif","Noto Serif CJK SC",serif' font-size="4.8" font-weight="300" text-anchor="middle" fill="#444">重</text>
<text transform="translate(1063.4 696.8)" font-family='"Liberation Serif","Noto Serif CJK SC",serif' font-size="4.8" font-weight="300" text-anchor="middle" fill="#444">量</text>
<text transform="translate(1078.9 692.4)" font-family='"Liberation Serif","Noto Serif CJK SC",serif' font-size="4.8" font-weight="300" text-anchor="middle" fill="#444">备</text>
<text transform="translate(1092.5 692.4)" font-family='"Liberation Serif","Noto Serif CJK SC",serif' font-size="4.8" font-weight="300" text-anchor="middle" fill="#444">注</text>
<line x1="860.5" y1="707.85" x2="966.5" y2="707.85" stroke="#000" stroke-width="1.35"/>
<line x1="860.5" y1="717.1" x2="966.5" y2="717.1" stroke="#000" stroke-width="1.35"/>
<line x1="860.5" y1="726.35" x2="966.5" y2="726.35" stroke="#000" stroke-width="1.35"/>
<line x1="860.5" y1="735.6" x2="966.5" y2="735.6" stroke="#000" stroke-width="1.8"/>
<line x1="860.5" y1="744.85" x2="966.5" y2="744.85" stroke="#000" stroke-width="1.35"/>
<line x1="860.5" y1="754.1" x2="966.5" y2="754.1" stroke="#000" stroke-width="1.35"/>
<line x1="860.5" y1="763.35" x2="966.5" y2="763.35" stroke="#000" stroke-width="1.35"/>
<line x1="873.6" y1="698.6" x2="873.6" y2="735.6" stroke="#000" stroke-width="1.35"/>
<line x1="886.8" y1="698.6" x2="886.8" y2="735.6" stroke="#000" stroke-width="1.35"/>
<line x1="908.3" y1="698.6" x2="908.3" y2="735.6" stroke="#000" stroke-width="1.35"/>
<line x1="929.5" y1="698.6" x2="929.5" y2="735.6" stroke="#000" stroke-width="1.35"/>
<line x1="945.5" y1="698.6" x2="945.5" y2="735.6" stroke="#000" stroke-width="1.35"/>
<line x1="876.2" y1="735.6" x2="876.2" y2="772.6" stroke="#000" stroke-width="1.35"/>
<line x1="892.4" y1="735.6" x2="892.4" y2="772.6" stroke="#000" stroke-width="1.35"/>
<line x1="913.3" y1="735.6" x2="913.3" y2="772.6" stroke="#000" stroke-width="1.35"/>
<line x1="929.5" y1="735.6" x2="929.5" y2="772.6" stroke="#000" stroke-width="1.35"/>
<line x1="945.5" y1="735.6" x2="945.5" y2="772.6" stroke="#000" stroke-width="1.35"/>
<line x1="966.5" y1="698.6" x2="966.5" y2="772.6" stroke="#000" stroke-width="1.8"/>
<line x1="1032.6" y1="698.6" x2="1032.6" y2="772.6" stroke="#000" stroke-width="1.6"/>
<line x1="966.5" y1="721.4" x2="1098.9" y2="721.4" stroke="#000" stroke-width="1.35"/>
<line x1="966.5" y1="735.7" x2="1032.6" y2="735.7" stroke="#000" stroke-width="2"/>
<line x1="966.5" y1="749.2" x2="1098.9" y2="749.2" stroke="#000" stroke-width="1.35"/>
<line x1="966.5" y1="761.4" x2="1032.6" y2="761.4" stroke="#000" stroke-width="1.35"/>
<line x1="1001.1" y1="721.4" x2="1001.1" y2="761.4" stroke="#000" stroke-width="1.8"/>
<line x1="1016.7" y1="735.7" x2="1016.7" y2="761.4" stroke="#000" stroke-width="1.8"/>
<line x1="975.2" y1="749.2" x2="975.2" y2="761.4" stroke="#000" stroke-width="1.35"/>
<line x1="983.9" y1="749.2" x2="983.9" y2="761.4" stroke="#000" stroke-width="1.35"/>
<line x1="992.5" y1="749.2" x2="992.5" y2="761.4" stroke="#000" stroke-width="1.35"/>
<rect x="893" y="728.3" width="9" height="4.7" fill="#000"/>
<text transform="translate(897.5 732.7)" font-family='"Liberation Sans","Noto Sans CJK SC",sans-serif' font-size="4.4" font-weight="bold" text-anchor="middle" fill="#000">分区</text>
<rect x="908.6" y="728.4" width="20.8" height="6.9" fill="#000"/>
<text transform="translate(919 734.2)" font-family='"Liberation Sans","Noto Sans CJK SC",sans-serif' font-size="4" font-weight="bold" text-anchor="middle" fill="#fff">更改文件号</text>
<rect x="913.8" y="737.3" width="15.6" height="4.5" fill="#000"/>
<text transform="translate(867 734.2)" font-family='"Liberation Serif","Noto Serif CJK SC",serif' font-size="5" font-weight="300" text-anchor="middle" fill="#444">标记</text>
<text transform="translate(880.2 734.2)" font-family='"Liberation Serif","Noto Serif CJK SC",serif' font-size="5" font-weight="300" text-anchor="middle" fill="#444">处数</text>
<text transform="translate(937.5 734.2)" font-family='"Liberation Serif","Noto Serif CJK SC",serif' font-size="5" font-weight="300" text-anchor="middle" fill="#444">签名</text>
<text transform="translate(956 734.2)" font-family='"Liberation Serif","Noto Serif CJK SC",serif' font-size="5" font-weight="300" text-anchor="middle" fill="#444" textLength="18.6" lengthAdjust="spacingAndGlyphs">年/月/日</text>
<text transform="translate(867.6 742.6)" font-family='"Liberation Serif","Noto Serif CJK SC",serif' font-size="4.8" font-weight="300" text-anchor="middle" fill="#444">设计</text>
<text transform="translate(867.6 761.6)" font-family='"Liberation Serif","Noto Serif CJK SC",serif' font-size="4.8" font-weight="300" text-anchor="middle" fill="#444">审核</text>
<text transform="translate(867.6 770.8)" font-family='"Liberation Serif","Noto Serif CJK SC",serif' font-size="4.8" font-weight="300" text-anchor="middle" fill="#444">工艺</text>
<text transform="translate(921.4 771)" font-family='"Liberation Serif","Noto Serif CJK SC",serif' font-size="4.8" font-weight="300" text-anchor="middle" fill="#444">批准</text>
<text transform="translate(984.8 732.1)" font-family='"Liberation Serif","Noto Serif CJK SC",serif' font-size="5.5" font-weight="300" text-anchor="middle" fill="#444">数量</text>
<text transform="translate(1017.4 732.2)" font-family='"Liberation Sans","Noto Sans CJK SC",sans-serif' font-size="5.6" font-weight="normal" text-anchor="middle" fill="#444">1</text>
<text transform="translate(985.2 745.1)" font-family='"Liberation Serif","Noto Serif CJK SC",serif' font-size="5.6" font-weight="300" text-anchor="middle" fill="#444" letter-spacing="0.3">阶段标记</text>
<text transform="translate(1007.7 745.1)" font-family='"Liberation Serif","Noto Serif CJK SC",serif' font-size="5.6" font-weight="300" text-anchor="middle" fill="#444">重量</text>
<text transform="translate(1023.7 745.1)" font-family='"Liberation Serif","Noto Serif CJK SC",serif' font-size="5.6" font-weight="300" text-anchor="middle" fill="#444">比例</text>
<text transform="translate(1025 756.2)" font-family='"Liberation Sans","Noto Sans CJK SC",sans-serif' font-size="5.6" font-weight="normal" text-anchor="middle" fill="#444">1:1</text>
<text transform="translate(970.6 770)" font-family='"Liberation Serif","Noto Serif CJK SC",serif' font-size="5.6" font-weight="300" text-anchor="middle" fill="#444">共</text>
<text transform="translate(987.6 770)" font-family='"Liberation Serif","Noto Serif CJK SC",serif' font-size="5.6" font-weight="300" text-anchor="middle" fill="#444">张</text>
<text transform="translate(1006.7 770)" font-family='"Liberation Serif","Noto Serif CJK SC",serif' font-size="5.6" font-weight="300" text-anchor="middle" fill="#444">第</text>
<text transform="translate(1022.3 770)" font-family='"Liberation Serif","Noto Serif CJK SC",serif' font-size="5.6" font-weight="300" text-anchor="middle" fill="#444">张</text>
<text transform="translate(1064.8 713)" font-family='"Liberation Serif","Noto Serif CJK SC",serif' font-size="5.6" font-weight="300" text-anchor="middle" fill="#444" textLength="23.4" lengthAdjust="spacingAndGlyphs">XXXX大学</text>
<text transform="translate(1064.2 737.4)" font-family='"Liberation Serif","Noto Serif CJK SC",serif' font-size="6" font-weight="300" text-anchor="middle" fill="#444" textLength="29.7" lengthAdjust="spacingAndGlyphs">夹具装配图</text>
<text transform="translate(1065.8 760)" font-family='"Liberation Sans","Noto Sans CJK SC",sans-serif' font-size="5.6" font-weight="normal" text-anchor="middle" fill="#444" textLength="16.4" lengthAdjust="spacingAndGlyphs">ZX-00</text>
</g>
</svg>
</body></html>
